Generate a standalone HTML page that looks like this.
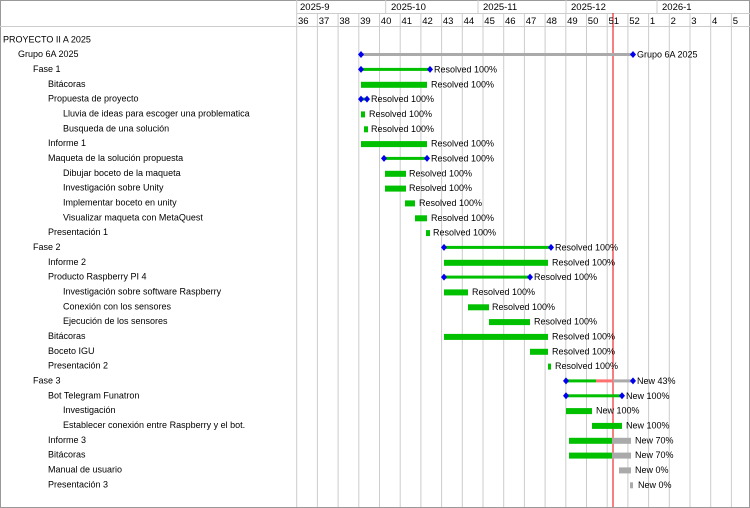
<!DOCTYPE html>
<html><head><meta charset="utf-8"><style>
html,body{margin:0;padding:0;background:#fff}
svg{display:block;font-family:"Liberation Sans",Arial,sans-serif;font-size:9px;fill:#000}
</style></head><body>
<svg width="750" height="508" viewBox="0 0 750 508" xmlns="http://www.w3.org/2000/svg">
<rect x="0.5" y="0.5" width="749" height="507" fill="#fff" stroke="#999"/>
<g stroke="#ccc" stroke-width="1">
<line x1="296.7" y1="13" x2="296.7" y2="507"/><line x1="317.4" y1="13" x2="317.4" y2="507"/><line x1="338.1" y1="13" x2="338.1" y2="507"/><line x1="358.8" y1="13" x2="358.8" y2="507"/><line x1="379.5" y1="13" x2="379.5" y2="507"/><line x1="400.2" y1="13" x2="400.2" y2="507"/><line x1="420.9" y1="13" x2="420.9" y2="507"/><line x1="441.6" y1="13" x2="441.6" y2="507"/><line x1="462.3" y1="13" x2="462.3" y2="507"/><line x1="483" y1="13" x2="483" y2="507"/><line x1="503.7" y1="13" x2="503.7" y2="507"/><line x1="524.4" y1="13" x2="524.4" y2="507"/><line x1="545.1" y1="13" x2="545.1" y2="507"/><line x1="565.8" y1="13" x2="565.8" y2="507"/><line x1="586.5" y1="13" x2="586.5" y2="507"/><line x1="607.2" y1="13" x2="607.2" y2="507"/><line x1="627.9" y1="13" x2="627.9" y2="507"/><line x1="648.6" y1="13" x2="648.6" y2="507"/><line x1="669.3" y1="13" x2="669.3" y2="507"/><line x1="690" y1="13" x2="690" y2="507"/><line x1="710.7" y1="13" x2="710.7" y2="507"/><line x1="731.4" y1="13" x2="731.4" y2="507"/>
<line x1="296.7" y1="0" x2="296.7" y2="13"/><line x1="385.7" y1="0" x2="385.7" y2="13"/><line x1="478" y1="0" x2="478" y2="13"/><line x1="566" y1="0" x2="566" y2="13"/><line x1="657" y1="0" x2="657" y2="13"/>
<line x1="296.7" y1="13.5" x2="750" y2="13.5"/><line x1="0" y1="26.5" x2="750" y2="26.5"/>
</g>
<line x1="613" y1="13" x2="613" y2="507" stroke="#e00" stroke-width="1"/>
<g font-size="9.5">
<text x="300" y="10">2025-9</text><text x="391" y="10">2025-10</text><text x="483" y="10">2025-11</text><text x="571" y="10">2025-12</text><text x="662" y="10">2026-1</text>
<text x="298" y="24">36</text><text x="318.7" y="24">37</text><text x="339.4" y="24">38</text><text x="360.1" y="24">39</text><text x="380.8" y="24">40</text><text x="401.5" y="24">41</text><text x="422.2" y="24">42</text><text x="442.9" y="24">43</text><text x="463.6" y="24">44</text><text x="484.3" y="24">45</text><text x="505" y="24">46</text><text x="525.7" y="24">47</text><text x="546.4" y="24">48</text><text x="567.1" y="24">49</text><text x="587.8" y="24">50</text><text x="608.5" y="24">51</text><text x="629.2" y="24">52</text><text x="649.9" y="24">1</text><text x="670.6" y="24">2</text><text x="691.3" y="24">3</text><text x="712" y="24">4</text><text x="732.7" y="24">5</text>
</g>
<g>
<text x="3" y="42.3">PROYECTO II A 2025</text>
<text x="18" y="57.1">Grupo 6A 2025</text>
<text x="33" y="71.9">Fase 1</text>
<text x="48" y="86.8">Bitácoras</text>
<text x="48" y="101.6">Propuesta de proyecto</text>
<text x="63" y="116.4">Lluvia de ideas para escoger una problematica</text>
<text x="63" y="131.3">Busqueda de una solución</text>
<text x="48" y="146.1">Informe 1</text>
<text x="48" y="160.9">Maqueta de la solución propuesta</text>
<text x="63" y="175.8">Dibujar boceto de la maqueta</text>
<text x="63" y="190.6">Investigación sobre Unity</text>
<text x="63" y="205.4">Implementar boceto en unity</text>
<text x="63" y="220.3">Visualizar maqueta con MetaQuest</text>
<text x="48" y="235.1">Presentación 1</text>
<text x="33" y="249.9">Fase 2</text>
<text x="48" y="264.8">Informe 2</text>
<text x="48" y="279.6">Producto Raspberry PI 4</text>
<text x="63" y="294.4">Investigación sobre software Raspberry</text>
<text x="63" y="309.3">Conexión con los sensores</text>
<text x="63" y="324.1">Ejecución de los sensores</text>
<text x="48" y="338.9">Bitácoras</text>
<text x="48" y="353.8">Boceto IGU</text>
<text x="48" y="368.6">Presentación 2</text>
<text x="33" y="383.4">Fase 3</text>
<text x="48" y="398.3">Bot Telegram Funatron</text>
<text x="63" y="413.1">Investigación</text>
<text x="63" y="427.9">Establecer conexión entre Raspberry y el bot.</text>
<text x="48" y="442.8">Informe 3</text>
<text x="48" y="457.6">Bitácoras</text>
<text x="48" y="472.4">Manual de usuario</text>
<text x="48" y="487.3">Presentación 3</text>
</g>
<!-- bars -->
<g>
<!-- Grupo -->
<rect x="361" y="53" width="272" height="3" fill="#aaa"/>
<rect x="361" y="67.9" width="69" height="3" fill="#00c000"/>
<rect x="361" y="81.8" width="66" height="6" fill="#00c000"/>
<rect x="361" y="97.6" width="6" height="3" fill="#00c000"/>
<rect x="361" y="111.4" width="4" height="6" fill="#00c000"/>
<rect x="364" y="126.3" width="4" height="6" fill="#00c000"/>
<rect x="361" y="141.1" width="66" height="6" fill="#00c000"/>
<rect x="384" y="156.9" width="43" height="3" fill="#00c000"/>
<rect x="385" y="170.8" width="21" height="6" fill="#00c000"/>
<rect x="385" y="185.6" width="21" height="6" fill="#00c000"/>
<rect x="405" y="200.4" width="10" height="6" fill="#00c000"/>
<rect x="415" y="215.3" width="12" height="6" fill="#00c000"/>
<rect x="426" y="230.1" width="4" height="6" fill="#00c000"/>
<rect x="444" y="245.9" width="107" height="3" fill="#00c000"/>
<rect x="444" y="259.8" width="104" height="6" fill="#00c000"/>
<rect x="444" y="275.6" width="86" height="3" fill="#00c000"/>
<rect x="444" y="289.4" width="24" height="6" fill="#00c000"/>
<rect x="468" y="304.3" width="21" height="6" fill="#00c000"/>
<rect x="489" y="319.1" width="41" height="6" fill="#00c000"/>
<rect x="444" y="333.9" width="104" height="6" fill="#00c000"/>
<rect x="530" y="348.8" width="18" height="6" fill="#00c000"/>
<rect x="548" y="363.6" width="3" height="6" fill="#00c000"/>
<rect x="566" y="379.4" width="30" height="3" fill="#00c000"/>
<rect x="596" y="379.4" width="17" height="3" fill="#ff7070"/>
<rect x="613" y="379.4" width="20" height="3" fill="#aaa"/>
<rect x="566" y="394.3" width="56" height="3" fill="#00c000"/>
<rect x="566" y="408.1" width="26" height="6" fill="#00c000"/>
<rect x="592" y="422.9" width="30" height="6" fill="#00c000"/>
<rect x="569" y="437.8" width="43" height="6" fill="#00c000"/>
<rect x="612" y="437.8" width="19" height="6" fill="#aaa"/>
<rect x="569" y="452.6" width="43" height="6" fill="#00c000"/>
<rect x="612" y="452.6" width="19" height="6" fill="#aaa"/>
<rect x="619" y="467.4" width="12" height="6" fill="#aaa"/>
<rect x="630" y="482.3" width="3" height="6" fill="#aaa"/>
</g>
<g fill="#0000ee">
<path d="M361 51l3 3.5-3 3.5-3-3.5z"/><path d="M633 51l3 3.5-3 3.5-3-3.5z"/>
<path d="M361 65.9l3 3.5-3 3.5-3-3.5z"/><path d="M430 65.9l3 3.5-3 3.5-3-3.5z"/>
<path d="M361 95.6l3 3.5-3 3.5-3-3.5z"/><path d="M367 95.6l3 3.5-3 3.5-3-3.5z"/>
<path d="M384 154.9l3 3.5-3 3.5-3-3.5z"/><path d="M427 154.9l3 3.5-3 3.5-3-3.5z"/>
<path d="M444 243.9l3 3.5-3 3.5-3-3.5z"/><path d="M551 243.9l3 3.5-3 3.5-3-3.5z"/>
<path d="M444 273.6l3 3.5-3 3.5-3-3.5z"/><path d="M530 273.6l3 3.5-3 3.5-3-3.5z"/>
<path d="M566 377.4l3 3.5-3 3.5-3-3.5z"/><path d="M633 377.4l3 3.5-3 3.5-3-3.5z"/>
<path d="M566 392.3l3 3.5-3 3.5-3-3.5z"/><path d="M622 392.3l3 3.5-3 3.5-3-3.5z"/>
</g>
<g>
<text x="637" y="57.6">Grupo 6A 2025</text>
<text x="434" y="72.4">Resolved 100%</text>
<text x="431" y="87.3">Resolved 100%</text>
<text x="371" y="102.1">Resolved 100%</text>
<text x="369" y="116.9">Resolved 100%</text>
<text x="371" y="131.8">Resolved 100%</text>
<text x="431" y="146.6">Resolved 100%</text>
<text x="431" y="161.4">Resolved 100%</text>
<text x="409" y="176.3">Resolved 100%</text>
<text x="409" y="191.1">Resolved 100%</text>
<text x="419" y="205.9">Resolved 100%</text>
<text x="431" y="220.8">Resolved 100%</text>
<text x="433" y="235.6">Resolved 100%</text>
<text x="555" y="250.4">Resolved 100%</text>
<text x="552" y="265.3">Resolved 100%</text>
<text x="534" y="280.1">Resolved 100%</text>
<text x="472" y="294.9">Resolved 100%</text>
<text x="492" y="309.8">Resolved 100%</text>
<text x="534" y="324.6">Resolved 100%</text>
<text x="552" y="339.4">Resolved 100%</text>
<text x="552" y="354.3">Resolved 100%</text>
<text x="555" y="369.1">Resolved 100%</text>
<text x="637" y="383.9">New 43%</text>
<text x="626" y="398.8">New 100%</text>
<text x="596" y="413.6">New 100%</text>
<text x="626" y="428.4">New 100%</text>
<text x="635" y="443.3">New 70%</text>
<text x="635" y="458.1">New 70%</text>
<text x="635" y="472.9">New 0%</text>
<text x="638" y="487.8">New 0%</text>
</g>
</svg>
</body></html>
